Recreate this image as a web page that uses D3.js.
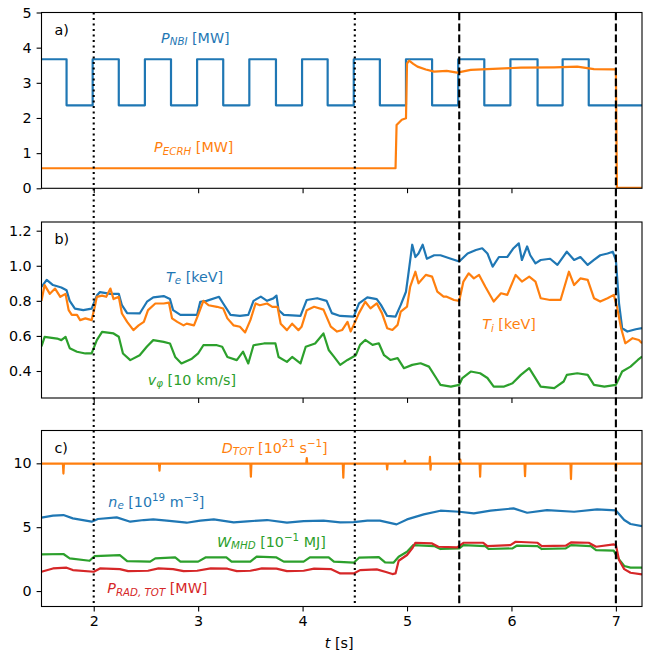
<!DOCTYPE html>
<html>
<head>
<meta charset="utf-8">
<script src="https://cdn.jsdelivr.net/npm/d3@7"></script>
<style>
body { margin: 0; background: #fff; }
text { font-family: "DejaVu Sans", sans-serif; white-space: pre; }
</style>
</head>
<body>
<div id="chart"></div>
<script>
// ---- data: [t (s), value] ----
const xTicks = [2, 3, 4, 5, 6, 7];

// panel a
const nbiTimes = [1.5, 1.74, 1.99, 2.24, 2.49, 2.74, 2.99, 3.24, 3.49, 3.745, 3.995, 4.24, 4.49, 4.74,
                  4.99, 5.24, 5.49, 5.74, 5.99, 6.25, 6.49, 6.74, 7.25];
const nbiLevels = [3.67, 2.36, 3.67, 2.36, 3.67, 2.36, 3.67, 2.36, 3.67, 2.36, 3.67, 2.36, 3.67, 2.36,
                   3.67, 2.36, 3.67, 2.36, 3.67, 2.36, 3.67, 2.36, 2.36];
const ecrhData = [[1.5,0.57],[4.89,0.57],[4.90,1.80],[4.95,1.95],[4.99,1.99],[5.00,3.55],[5.02,3.63],
  [5.06,3.54],[5.10,3.46],[5.18,3.38],[5.26,3.32],[5.38,3.34],[5.48,3.29],[5.61,3.37],[5.77,3.39],
  [6.09,3.43],[6.41,3.44],[6.63,3.46],[6.79,3.39],[6.97,3.38],[7.00,3.38],[7.01,0.01],[7.25,0.01]];

// panel b
const teData = [[1.50,0.88],[1.55,0.92],[1.61,0.89],[1.69,0.876],[1.74,0.86],[1.77,0.80],[1.82,0.756],
  [1.90,0.747],[1.98,0.756],[2.03,0.83],[2.06,0.85],[2.16,0.84],[2.24,0.84],[2.27,0.775],[2.32,0.73],
  [2.44,0.728],[2.51,0.795],[2.57,0.82],[2.67,0.827],[2.73,0.81],[2.76,0.747],[2.83,0.72],[2.99,0.72],
  [3.02,0.795],[3.08,0.80],[3.20,0.823],[3.24,0.785],[3.31,0.72],[3.40,0.714],[3.48,0.72],[3.53,0.80],
  [3.60,0.824],[3.66,0.80],[3.72,0.814],[3.75,0.83],[3.77,0.748],[3.82,0.72],[3.98,0.714],[4.04,0.805],
  [4.14,0.815],[4.23,0.80],[4.28,0.73],[4.36,0.714],[4.49,0.71],[4.54,0.786],[4.62,0.82],[4.71,0.81],
  [4.75,0.777],[4.81,0.714],[4.89,0.71],[4.94,0.777],[4.99,0.852],[5.01,0.94],[5.05,1.12],[5.08,1.05],
  [5.11,1.07],[5.15,1.12],[5.19,1.04],[5.26,1.06],[5.32,1.06],[5.42,1.04],[5.50,1.024],[5.58,1.07],
  [5.66,1.09],[5.72,1.10],[5.77,1.07],[5.82,0.995],[5.88,1.05],[5.96,1.05],[6.02,1.10],[6.07,1.128],
  [6.10,1.033],[6.15,1.11],[6.18,1.06],[6.23,1.014],[6.28,1.033],[6.37,1.04],[6.44,1.005],[6.53,1.08],
  [6.60,1.033],[6.66,1.05],[6.73,1.005],[6.79,1.033],[6.85,1.06],[6.92,1.07],[6.97,1.08],[7.00,1.033],
  [7.03,0.786],[7.06,0.644],[7.11,0.625],[7.19,0.638],[7.25,0.644]];
const tiData = [[1.50,0.80],[1.53,0.89],[1.58,0.84],[1.63,0.87],[1.68,0.823],[1.73,0.84],[1.76,0.747],
  [1.79,0.72],[1.84,0.72],[1.87,0.69],[1.92,0.70],[1.98,0.69],[2.01,0.766],[2.03,0.823],[2.08,0.83],
  [2.12,0.823],[2.16,0.87],[2.19,0.81],[2.24,0.823],[2.27,0.728],[2.32,0.68],[2.38,0.633],[2.43,0.66],
  [2.48,0.68],[2.52,0.747],[2.59,0.785],[2.67,0.785],[2.72,0.79],[2.75,0.70],[2.80,0.68],[2.86,0.66],
  [2.89,0.67],[2.96,0.66],[3.00,0.72],[3.05,0.80],[3.10,0.775],[3.18,0.766],[3.24,0.756],[3.28,0.70],
  [3.34,0.66],[3.40,0.652],[3.45,0.62],[3.50,0.69],[3.55,0.785],[3.59,0.775],[3.66,0.785],[3.71,0.766],
  [3.76,0.766],[3.79,0.67],[3.85,0.633],[3.90,0.67],[3.96,0.633],[3.99,0.652],[4.04,0.747],[4.11,0.766],
  [4.20,0.75],[4.27,0.653],[4.33,0.625],[4.38,0.634],[4.43,0.68],[4.46,0.625],[4.49,0.663],[4.54,0.73],
  [4.60,0.795],[4.65,0.757],[4.71,0.786],[4.76,0.73],[4.81,0.644],[4.86,0.634],[4.91,0.663],[4.94,0.739],
  [5.00,0.767],[5.03,0.88],[5.08,0.966],[5.11,0.90],[5.18,0.948],[5.24,0.938],[5.29,0.853],[5.35,0.824],
  [5.38,0.824],[5.45,0.805],[5.50,0.80],[5.54,0.91],[5.59,0.957],[5.64,0.928],[5.69,0.948],[5.75,0.88],
  [5.83,0.796],[5.90,0.843],[5.96,0.834],[6.04,0.948],[6.10,0.91],[6.17,0.938],[6.23,0.91],[6.28,0.815],
  [6.37,0.805],[6.47,0.805],[6.55,0.966],[6.60,0.89],[6.66,0.928],[6.73,0.92],[6.79,0.815],[6.85,0.796],
  [6.92,0.815],[6.98,0.834],[7.01,0.767],[7.05,0.644],[7.09,0.558],[7.16,0.587],[7.22,0.577],[7.25,0.558]];
const vphiData = [[1.50,0.54],[1.53,0.595],[1.65,0.585],[1.69,0.576],[1.73,0.595],[1.77,0.53],[1.84,0.51],
  [1.92,0.50],[1.98,0.50],[2.03,0.576],[2.08,0.623],[2.19,0.614],[2.24,0.595],[2.28,0.50],[2.35,0.462],
  [2.44,0.49],[2.51,0.54],[2.57,0.576],[2.67,0.566],[2.73,0.557],[2.78,0.48],[2.84,0.443],[2.94,0.47],
  [3.00,0.50],[3.05,0.547],[3.18,0.547],[3.23,0.538],[3.28,0.48],[3.37,0.462],[3.43,0.51],[3.48,0.443],
  [3.53,0.547],[3.63,0.557],[3.74,0.557],[3.77,0.48],[3.85,0.452],[3.90,0.48],[3.98,0.443],[4.03,0.538],
  [4.12,0.557],[4.20,0.614],[4.25,0.52],[4.30,0.482],[4.36,0.435],[4.43,0.463],[4.51,0.49],[4.55,0.549],
  [4.60,0.577],[4.67,0.549],[4.73,0.558],[4.78,0.49],[4.84,0.463],[4.91,0.473],[4.97,0.416],[5.05,0.435],
  [5.13,0.444],[5.21,0.425],[5.29,0.35],[5.32,0.321],[5.42,0.311],[5.50,0.321],[5.53,0.36],[5.61,0.397],
  [5.70,0.387],[5.77,0.36],[5.83,0.311],[5.93,0.311],[6.01,0.33],[6.09,0.378],[6.17,0.416],[6.21,0.378],
  [6.28,0.311],[6.41,0.302],[6.50,0.34],[6.53,0.378],[6.63,0.387],[6.73,0.378],[6.79,0.321],[6.89,0.311],
  [7.00,0.321],[7.06,0.397],[7.14,0.425],[7.21,0.463],[7.25,0.482]];

// panel c
const neData = [[1.50,5.75],[1.61,5.90],[1.71,5.95],[1.80,5.69],[1.98,5.43],[2.04,5.64],[2.22,5.77],
  [2.35,5.43],[2.48,5.56],[2.57,5.61],[2.70,5.51],[2.89,5.35],[3.02,5.51],[3.15,5.61],[3.34,5.38],
  [3.47,5.46],[3.66,5.56],[3.85,5.35],[4.01,5.48],[4.20,5.51],[4.36,5.38],[4.49,5.40],[4.62,5.51],
  [4.74,5.51],[4.90,5.22],[5.00,5.61],[5.16,6.0],[5.32,6.29],[5.50,6.21],[5.64,6.08],[5.80,6.29],
  [6.02,6.47],[6.15,6.13],[6.34,6.34],[6.60,6.21],[6.82,6.39],[7.00,6.31],[7.08,5.56],[7.14,5.25],[7.25,5.08]];
const dtotData = [[1.5,9.98],[1.705,9.98],[1.71,9.2],[1.715,9.98],[2.625,9.98],[2.63,9.42],[2.635,9.98],
  [3.50,9.98],[3.505,8.95],[3.51,9.98],[4.035,9.98],[4.04,10.4],[4.045,9.98],[4.385,9.98],[4.39,8.87],
  [4.395,9.98],[4.805,9.98],[4.81,9.53],[4.815,9.98],[4.975,9.98],[4.98,10.2],[4.985,9.98],[5.215,9.98],
  [5.22,10.5],[5.225,9.5],[5.23,9.98],[5.505,9.98],[5.51,10.3],[5.515,9.98],[5.695,9.98],[5.70,8.95],
  [5.705,9.98],[6.125,9.98],[6.13,9.0],[6.135,9.98],[6.565,9.98],[6.57,8.77],[6.575,9.98],[6.995,9.98],
  [7.0,9.45],[7.005,9.98],[7.25,9.98]];
const wmhdData = [[1.50,2.87],[1.71,2.90],[1.77,2.56],[1.96,2.37],[2.01,2.74],[2.25,2.82],[2.32,2.35],
  [2.54,2.30],[2.59,2.56],[2.78,2.63],[2.83,2.30],[3.00,2.30],[3.07,2.63],[3.27,2.63],[3.32,2.30],
  [3.50,2.30],[3.56,2.69],[3.75,2.63],[3.82,2.30],[4.01,2.30],[4.07,2.63],[4.25,2.63],[4.30,2.30],
  [4.49,2.22],[4.54,2.61],[4.73,2.66],[4.79,2.24],[4.87,2.22],[4.92,2.69],[5.00,3.08],[5.06,3.60],
  [5.26,3.52],[5.32,3.29],[5.50,3.34],[5.54,3.60],[5.75,3.52],[5.78,3.29],[6.01,3.34],[6.05,3.55],
  [6.25,3.52],[6.29,3.29],[6.52,3.34],[6.57,3.60],[6.76,3.52],[6.81,3.21],[6.98,3.16],[7.01,2.69],
  [7.08,1.96],[7.14,1.83],[7.25,1.83]];
const pradData = [[1.50,1.51],[1.61,1.77],[1.74,1.83],[1.80,1.64],[2.00,1.51],[2.06,1.77],[2.25,1.72],
  [2.33,1.56],[2.52,1.59],[2.62,1.77],[2.76,1.72],[2.86,1.56],[2.99,1.59],[3.12,1.77],[3.28,1.75],
  [3.37,1.56],[3.50,1.59],[3.61,1.77],[3.75,1.75],[3.85,1.56],[4.01,1.59],[4.11,1.75],[4.27,1.72],
  [4.36,1.38],[4.49,1.38],[4.55,1.64],[4.71,1.70],[4.79,1.51],[4.86,1.33],[4.89,1.38],[4.92,2.37],
  [5.00,2.82],[5.05,3.34],[5.08,3.78],[5.24,3.73],[5.30,3.47],[5.48,3.42],[5.54,3.78],[5.73,3.78],
  [5.77,3.52],[5.99,3.60],[6.04,3.86],[6.25,3.78],[6.29,3.52],[6.52,3.55],[6.57,3.81],[6.74,3.78],
  [6.81,3.47],[6.98,3.65],[7.00,3.60],[7.03,2.43],[7.08,1.72],[7.14,1.43],[7.25,1.30]];

const dottedTimes = [2, 4.5];
const dashedTimes = [5.5, 7];

// ---- layout ----
const W = 649, H = 660;
const FS = 14.3;
const C0 = "#1f77b4", C1 = "#ff7f0e", C2 = "#2ca02c", C3 = "#d62728";

const svg = d3.select("#chart").append("svg")
    .attr("width", W)
    .attr("height", H);

const x = d3.scaleLinear().domain([1.5, 7.25]).range([41.5, 642]);

const panels = [
  { tag: "a)", top: 12.5, bottom: 188.3, domain: [0, 5], ticks: [0, 1, 2, 3, 4, 5], fmt: d3.format("d"),
    series: [
      { data: d3.zip(nbiTimes, nbiLevels), color: C0, step: true },
      { data: ecrhData, color: C1 }
    ],
    labels: [
      { t: 2.645, v: 4.14, color: C0, parts: [["P","i"],["NBI","i","sub"],[" [MW]"]] },
      { t: 2.578, v: 1.03, color: C1, parts: [["P","i"],["ECRH","i","sub"],[" [MW]"]] }
    ] },
  { tag: "b)", top: 222, bottom: 398, domain: [0.246, 1.2496], ticks: [0.4, 0.6, 0.8, 1.0, 1.2], fmt: d3.format(".1f"),
    series: [
      { data: teData, color: C0 },
      { data: tiData, color: C1 },
      { data: vphiData, color: C2 }
    ],
    labels: [
      { t: 2.693, v: 0.909, color: C0, parts: [["T","i"],["e","i","sub"],[" [keV]"]] },
      { t: 5.72, v: 0.638, color: C1, parts: [["T","i"],["i","i","sub"],[" [keV]"]] },
      { t: 2.518, v: 0.321, color: C2, parts: [["v","i"],["φ","i","sub"],[" [10 km/s]"]] }
    ] },
  { tag: "c)", top: 430.5, bottom: 606.5, domain: [-1.21, 12.57], ticks: [0, 5, 10], fmt: d3.format("d"),
    series: [
      { data: neData, color: C0 },
      { data: dtotData, color: C1 },
      { data: wmhdData, color: C2 },
      { data: pradData, color: C3 }
    ],
    labels: [
      { t: 3.227, v: 10.83, color: C1, parts: [["D","i"],["TOT","i","sub"],[" [10"],["21","n","sup"],[" s"],["\u22121","n","sup"],["]"]] },
      { t: 2.14, v: 6.60, color: C0, parts: [["n","i"],["e","i","sub"],[" [10"],["19","n","sup"],[" m"],["\u22123","n","sup"],["]"]] },
      { t: 3.18, v: 3.47, color: C2, parts: [["W","i"],["MHD","i","sub"],[" [10"],["\u22121","n","sup"],[" MJ]"]] },
      { t: 2.13, v: -0.18, color: C3, parts: [["P","i"],["RAD, TOT","i","sub"],[" [MW]"]] }
    ] }
];

// mathtext-like label built from tspans
function mathLabel(g, px, py, color, parts) {
    const txt = g.append("text")
        .attr("x", px)
        .attr("y", py)
        .attr("fill", color)
        .attr("font-size", FS);
    let cur = 0;
    parts.forEach(function(p) {
        const pos = p[2] || "base";
        const target = pos === "sub" ? 2.6 : pos === "sup" ? -5.8 : 0;
        txt.append("tspan")
            .attr("dy", target - cur)
            .attr("font-size", pos === "base" ? FS : FS * 0.72)
            .attr("font-style", p[1] === "i" ? "italic" : "normal")
            .text(p[0]);
        cur = target;
    });
}

panels.forEach(function(p, i) {
    const y = d3.scaleLinear().domain(p.domain).range([p.bottom, p.top]);
    const g = svg.append("g");

    g.append("clipPath").attr("id", "clip" + i)
        .append("rect")
        .attr("x", x.range()[0]).attr("y", p.top)
        .attr("width", x.range()[1] - x.range()[0]).attr("height", p.bottom - p.top);

    const plot = g.append("g").attr("clip-path", "url(#clip" + i + ")");
    p.series.forEach(function(s) {
        const line = d3.line()
            .x(d => x(d[0]))
            .y(d => y(d[1]))
            .curve(s.step ? d3.curveStepAfter : d3.curveLinear);
        plot.append("path")
            .datum(s.data)
            .attr("d", line)
            .attr("fill", "none")
            .attr("stroke", s.color)
            .attr("stroke-width", 2.2)
            .attr("stroke-linejoin", "round");
    });

    // axes
    const xa = g.append("g")
        .attr("transform", "translate(0," + p.bottom + ")")
        .call(d3.axisBottom(x).tickValues(xTicks).tickSize(4.9).tickPadding(4.9)
            .tickFormat(i === 2 ? d3.format("d") : ""));
    const ya = g.append("g")
        .attr("transform", "translate(" + x.range()[0] + ",0)")
        .call(d3.axisLeft(y).tickValues(p.ticks).tickSize(4.9).tickPadding(4.9).tickFormat(p.fmt));
    [xa, ya].forEach(function(a) {
        a.select(".domain").remove();
        a.attr("font-family", null).attr("font-size", FS);
        a.selectAll("line").attr("stroke", "#000").attr("stroke-width", 1.1);
        a.selectAll("text").attr("fill", "#000");
    });

    g.append("rect")
        .attr("x", x.range()[0]).attr("y", p.top)
        .attr("width", x.range()[1] - x.range()[0]).attr("height", p.bottom - p.top)
        .attr("fill", "none").attr("stroke", "#000").attr("stroke-width", 1.1);

    g.append("text")
        .attr("x", x.range()[0] + 13)
        .attr("y", p.top + 22)
        .attr("font-size", FS)
        .text(p.tag);

    p.labels.forEach(function(l) {
        mathLabel(g, x(l.t), y(l.v), l.color, l.parts);
    });
});

// x label
mathLabel(svg, (x.range()[0] + x.range()[1]) / 2 - 17, 648, "#000", [["t","i"],[" [s]"]]);

// vertical markers spanning all panels
const vTop = panels[0].top, vBottom = panels[2].bottom;
svg.selectAll(".dotted").data(dottedTimes).enter().append("line")
    .attr("x1", d => x(d)).attr("x2", d => x(d))
    .attr("y1", vTop).attr("y2", vBottom)
    .attr("stroke", "#000").attr("stroke-width", 2.1)
    .attr("stroke-dasharray", "2.1,3.4");
svg.selectAll(".dashed").data(dashedTimes).enter().append("line")
    .attr("x1", d => x(d)).attr("x2", d => x(d))
    .attr("y1", vTop).attr("y2", vBottom)
    .attr("stroke", "#000").attr("stroke-width", 2.1)
    .attr("stroke-dasharray", "7.7,3.3");
</script>
</body>
</html>
